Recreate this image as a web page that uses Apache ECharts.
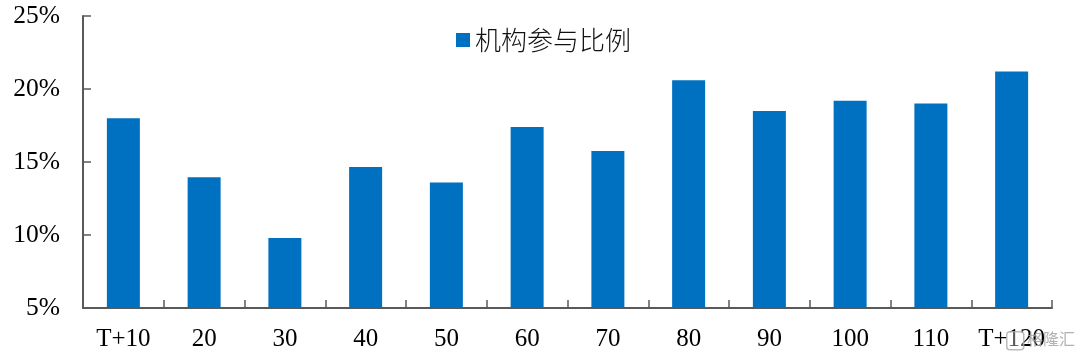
<!DOCTYPE html>
<html><head><meta charset="utf-8">
<style>html,body{margin:0;padding:0;background:#fff}#c{width:1080px;height:357px}</style>
<script src="https://cdn.jsdelivr.net/npm/echarts@6/dist/echarts.min.js"></script>
</head><body><div id="c"></div>
<script>
const categories = ['T+10','20','30','40','50','60','70','80','90','100','110','T+120'];
const seriesName = '机构参与比例';
const values = [18.0,13.95,9.8,14.65,13.6,17.4,15.75,20.6,18.5,19.2,19.0,21.2];
const serif = '"Liberation Serif","Times New Roman",serif';
const chart = echarts.init(document.getElementById('c'), null, {renderer:'canvas'});
chart.setOption({
  animation:false,
  backgroundColor:'#fff',
  grid:{left:83,right:28,top:16,bottom:49,containLabel:false},
  legend:{
    show:true,left:451,top:22,itemWidth:14,itemHeight:14,itemGap:6,icon:'rect',
    data:[seriesName],
    textStyle:{fontFamily:'"Noto Sans CJK SC"',fontSize:26,fontWeight:300,color:'#111'}
  },
  xAxis:{
    type:'category',data:categories,boundaryGap:true,
    axisLine:{lineStyle:{color:'#595959',width:2}},
    axisTick:{show:true,inside:true,length:8,alignWithLabel:false,lineStyle:{color:'#595959',width:1.5}},
    axisLabel:{interval:0,margin:19,fontFamily:serif,fontSize:25,color:'#000'},
    splitLine:{show:false}
  },
  yAxis:{
    type:'value',min:5,max:25,interval:5,
    axisLine:{show:true,lineStyle:{color:'#595959',width:2}},
    axisTick:{show:true,inside:true,length:8,lineStyle:{color:'#595959',width:1.5}},
    axisLabel:{margin:23,padding:[2,0,0,0],fontFamily:serif,fontSize:25.5,color:'#000',formatter:'{value}%'},
    splitLine:{show:false}
  },
  series:[{name:seriesName,type:'bar',data:values,barWidth:33,itemStyle:{color:'#0070C0'}}],
  graphic:[
    {type:'rect',left:1006,top:331,z:100,shape:{width:17,height:18,r:3},style:{fill:'rgba(255,255,255,0.35)',stroke:'rgba(170,170,170,0.8)',lineWidth:1.5}},
    {type:'text',left:1027,top:331,z:100,style:{text:'格隆汇',fontFamily:'"Noto Sans CJK SC"',fontSize:16,fill:'rgba(165,165,165,0.85)'}}
  ]
});
</script></body></html>
